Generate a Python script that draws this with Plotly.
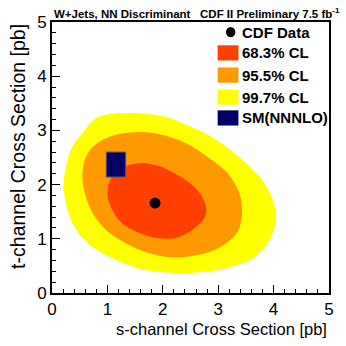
import plotly.graph_objects as go

# contour outlines (s-channel, t-channel) in pb
cl997_s = [0.27, 0.21, 0.28, 0.44, 0.73, 1.16, 1.62, 2.22, 2.76, 3.22, 3.65, 3.93,
           4.04, 4.00, 3.83, 3.58, 3.22, 2.76, 2.33, 2.05, 1.33, 0.80, 0.55, 0.36]
cl997_t = [2.40, 1.99, 1.53, 1.16, 0.85, 0.61, 0.44, 0.37, 0.39, 0.48, 0.66, 0.98,
           1.35, 1.66, 2.03, 2.32, 2.64, 2.95, 3.14, 3.25, 3.32, 3.23, 2.95, 2.69]

cl955_s = [1.57, 1.03, 0.73, 0.59, 0.55, 0.59, 0.73, 0.98, 1.33, 1.74,
           2.15, 2.63, 3.04, 3.35, 3.43, 3.38, 3.17, 2.81, 2.40, 1.98]
cl955_t = [2.97, 2.88, 2.69, 2.45, 2.14, 1.85, 1.48, 1.16, 0.92, 0.74,
           0.66, 0.70, 0.85, 1.13, 1.48, 1.85, 2.21, 2.51, 2.77, 2.92]

cl683_s = [1.62, 1.26, 1.07, 1.00, 1.07, 1.26, 1.57, 1.92,
           2.28, 2.58, 2.76, 2.78, 2.69, 2.46, 2.10, 1.87]
cl683_t = [2.40, 2.31, 2.12, 1.85, 1.57, 1.29, 1.11, 1.01,
           1.03, 1.20, 1.40, 1.59, 1.81, 2.05, 2.27, 2.36]

data_s = [1.86]
data_t = [1.66]

# SM(NNNLO) prediction box edges
sm_s = [0.98, 1.33]
sm_t = [2.14, 2.60]

legend_labels = ["CDF Data", "68.3% CL", "95.5% CL", "99.7% CL", "SM(NNNLO)"]
legend_colors = ["black", "#ff4000", "#ff9900", "#ffff00", "#000066"]

FONT = "Liberation Sans, Arial, sans-serif"

fig = go.Figure()

for xs, ys, col in [(cl997_s, cl997_t, "#ffff00"),
                    (cl955_s, cl955_t, "#ff9900"),
                    (cl683_s, cl683_t, "#ff4000")]:
    fig.add_trace(go.Scatter(
        x=xs + xs[:1], y=ys + ys[:1], mode="lines", fill="toself",
        fillcolor=col, line=dict(color=col, width=0, shape="spline", smoothing=1.0),
        hoverinfo="skip", showlegend=False,
    ))

fig.add_trace(go.Scatter(
    x=[sm_s[0], sm_s[1], sm_s[1], sm_s[0], sm_s[0]],
    y=[sm_t[0], sm_t[0], sm_t[1], sm_t[1], sm_t[0]],
    mode="lines", fill="toself", fillcolor="#000066",
    line=dict(color="#555577", width=1), showlegend=False,
))

fig.add_trace(go.Scatter(
    x=data_s, y=data_t, mode="markers",
    marker=dict(color="black", size=11, symbol="circle"), showlegend=False,
))

# hand-drawn legend, top right inside the frame
row_y = [0.963, 0.886, 0.804, 0.723, 0.646]
for i, (lab, col) in enumerate(zip(legend_labels, legend_colors)):
    yy = row_y[i]
    if i == 0:
        fig.add_shape(type="circle", xref="paper", yref="paper",
                      x0=0.628, x1=0.662, y0=yy - 0.019, y1=yy + 0.019,
                      fillcolor="black", line=dict(width=0))
    else:
        fig.add_shape(type="rect", xref="paper", yref="paper",
                      x0=0.598, x1=0.673, y0=yy - 0.028, y1=yy + 0.028,
                      fillcolor=col, line=dict(width=0))
    fig.add_annotation(text="<b>" + lab + "</b>", xref="paper", yref="paper",
                       x=0.680, y=yy, xanchor="left", yanchor="middle",
                       showarrow=False, font=dict(size=15, color="black", family=FONT))

fig.add_annotation(
    text="<b>W+Jets, NN Discriminant\u00a0\u00a0 CDF II Preliminary 7.5 fb<sup>-1</sup></b>",
    xref="paper", yref="paper", x=0, y=1.0, xanchor="left", yanchor="bottom",
    showarrow=False, font=dict(size=11.5, color="black", family=FONT),
)
fig.add_annotation(
    text="s-channel Cross Section [pb]", xref="paper", yref="paper",
    x=1.0, y=-0.133, xanchor="right", yanchor="middle", showarrow=False,
    font=dict(size=16.5, color="black", family=FONT),
)
fig.add_annotation(
    text="t-channel Cross Section [pb]", xref="paper", yref="paper",
    x=-0.125, y=1.0, xanchor="center", yanchor="top", textangle=-90, showarrow=False,
    font=dict(size=19.5, color="black", family=FONT),
)

axis_style = dict(
    range=[0, 5], dtick=1, ticks="inside", ticklen=8, tickwidth=1, tickcolor="black",
    minor=dict(dtick=0.2, ticks="inside", ticklen=4, tickcolor="black"),
    showline=True, linecolor="black", linewidth=2, mirror=True,
    showgrid=False, zeroline=False,
    tickfont=dict(size=17, color="black", family=FONT),
)
fig.update_xaxes(**axis_style)
fig.update_yaxes(**axis_style)

fig.update_layout(
    width=346, height=346,
    margin=dict(l=52, r=13, t=22, b=53),
    plot_bgcolor="white", paper_bgcolor="white",
    showlegend=False,
)

# drop the browser's default 8px body margin so the figure fills the window
fig.write_html("out.html", config={"displayModeBar": False},
               post_script="document.body.style.margin='0px';")
